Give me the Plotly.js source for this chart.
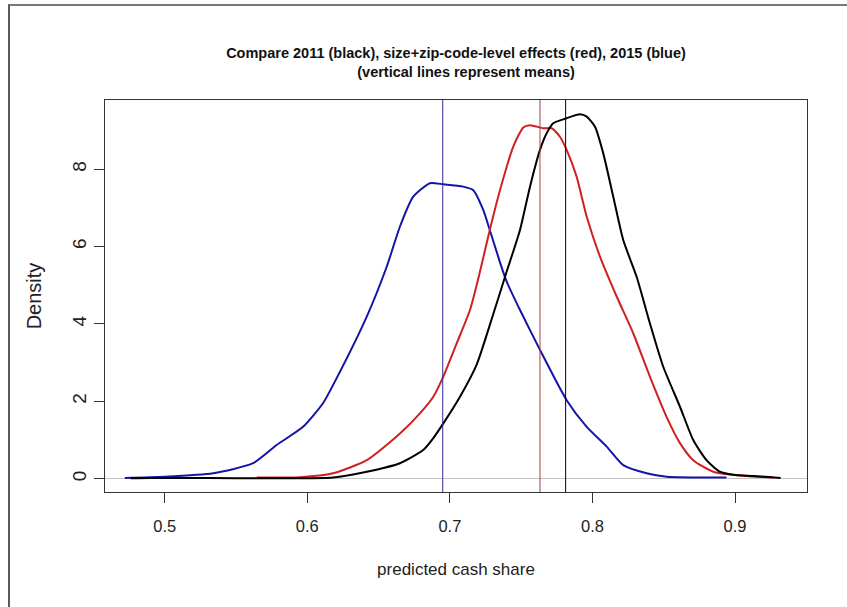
<!DOCTYPE html>
<html>
<head>
<meta charset="utf-8">
<script src="https://cdn.plot.ly/plotly-3.0.1.min.js"></script>
<style>
  html, body { margin: 0; padding: 0; background: #fff; }
  #wrap { position: relative; width: 847px; height: 607px; overflow: hidden; }
  #frame { position: absolute; left: 8px; top: 4px; right: -10px; bottom: -10px;
           border-left: 2px solid #5a5a5a; border-top: 2px solid #777; pointer-events: none; }
  #chart { position: absolute; left: 0; top: 0; width: 847px; height: 607px; }
</style>
</head>
<body>
<div id="wrap">
  <div id="chart"></div>
  <div id="frame"></div>
</div>
<script>
// 2011 (black)
const blackX = [0.476, 0.49, 0.51, 0.55, 0.59, 0.618, 0.6417, 0.665, 0.6813, 0.6884, 0.6954, 0.7071, 0.7188, 0.7304, 0.7398, 0.7492, 0.7562, 0.7632, 0.7679, 0.7725, 0.7819, 0.7912, 0.796, 0.8018, 0.8076, 0.8146, 0.8216, 0.831, 0.8403, 0.8496, 0.8614, 0.8707, 0.88, 0.8894, 0.8987, 0.9128, 0.932];
const blackY = [0.01, 0.02, 0.02, 0.01, 0.01, 0.03, 0.18, 0.40, 0.74, 1.05, 1.43, 2.12, 2.95, 4.25, 5.35, 6.43, 7.55, 8.50, 8.93, 9.19, 9.32, 9.42, 9.36, 9.10, 8.41, 7.29, 6.17, 5.22, 4.02, 2.90, 1.86, 1.00, 0.48, 0.18, 0.10, 0.07, 0.02];
// size + zip-code-level effects (red)
const redX = [0.5645, 0.595, 0.618, 0.6417, 0.665, 0.679, 0.6884, 0.6954, 0.7048, 0.7141, 0.7211, 0.728, 0.7351, 0.7444, 0.7515, 0.7562, 0.7655, 0.7714, 0.7772, 0.7819, 0.7889, 0.796, 0.8053, 0.817, 0.8286, 0.8403, 0.852, 0.8614, 0.8707, 0.8847, 0.908, 0.927];
const redY = [0.03, 0.04, 0.14, 0.48, 1.17, 1.69, 2.12, 2.64, 3.50, 4.36, 5.35, 6.43, 7.45, 8.58, 9.08, 9.14, 9.06, 9.06, 8.84, 8.50, 7.81, 6.77, 5.74, 4.71, 3.76, 2.64, 1.60, 0.92, 0.48, 0.18, 0.07, 0.03];
// 2015 (blue)
const blueX = [0.472, 0.50, 0.534, 0.562, 0.5785, 0.597, 0.611, 0.6206, 0.6417, 0.6557, 0.665, 0.6743, 0.686, 0.6954, 0.7094, 0.7164, 0.7234, 0.728, 0.7351, 0.7398, 0.7492, 0.7632, 0.7819, 0.796, 0.81, 0.8216, 0.838, 0.852, 0.894];
const blueY = [0.02, 0.05, 0.14, 0.40, 0.87, 1.34, 1.95, 2.60, 4.19, 5.48, 6.52, 7.29, 7.64, 7.61, 7.55, 7.46, 6.95, 6.43, 5.60, 5.10, 4.36, 3.33, 2.03, 1.34, 0.83, 0.35, 0.14, 0.05, 0.03];
// means (vertical lines)
const meanNames = ["2011", "size+zip", "2015"];
const meanValues = [0.7812, 0.7632, 0.695];
const meanColors = ["#000000", "#b03c3c", "#2a2a9a"];

const xTicks = [0.5, 0.6, 0.7, 0.8, 0.9];
const xTickLabels = ["0.5", "0.6", "0.7", "0.8", "0.9"];
const yTicks = [0, 2, 4, 6, 8];
const yTickLabels = ["0", "2", "4", "6", "8"];

const FONT = "Liberation Sans, Arial, sans-serif";
const NB = "\u00a0";

const traces = [
  {x: blueX, y: blueY, mode: "lines", line: {color: "#1414a8", width: 2, shape: "spline", smoothing: 0.6}, hoverinfo: "skip"},
  {x: redX, y: redY, mode: "lines", line: {color: "#d02020", width: 2, shape: "spline", smoothing: 0.6}, hoverinfo: "skip"},
  {x: blackX, y: blackY, mode: "lines", line: {color: "#000000", width: 2, shape: "spline", smoothing: 0.6}, hoverinfo: "skip"}
];

const shapes = meanValues.map((m, i) => ({
  type: "line", xref: "x", yref: "paper", x0: m, x1: m, y0: 0, y1: 1,
  line: {color: meanColors[i], width: 1}
}));

const layout = {
  width: 847, height: 607,
  margin: {l: 105, r: 40, t: 100, b: 115, pad: 0},
  paper_bgcolor: "#ffffff", plot_bgcolor: "#ffffff",
  showlegend: false,
  font: {family: FONT, color: "#222"},
  title: {
    text: "<b>Compare 2011 (black), size+zip-code-level effects (red), 2015 (blue)</b><br><b>" + NB.repeat(5) + "(vertical lines represent means)</b>",
    font: {family: FONT, size: 14.5, color: "#111"},
    x: 0.5, xref: "paper", xanchor: "center",
    y: 1 - 58.4 / 607, yref: "container", yanchor: "middle"
  },
  xaxis: {
    range: [0.4581, 0.9505], tickvals: xTicks, ticktext: xTickLabels,
    ticks: "outside", ticklen: 10, tickwidth: 1, tickcolor: "#333",
    showline: true, mirror: true, linecolor: "#333", linewidth: 1.3,
    showgrid: false, zeroline: false,
    tickfont: {family: FONT, size: 16.5, color: "#222"},
    ticklabelstandoff: 9,
    title: {text: "predicted cash share", font: {family: FONT, size: 17, color: "#222"}, standoff: 29}
  },
  yaxis: {
    range: [-0.344, 9.79], tickvals: yTicks, ticktext: yTickLabels,
    ticks: "outside", ticklen: 10, tickwidth: 1, tickcolor: "#333",
    showline: true, mirror: true, linecolor: "#333", linewidth: 1.3,
    showgrid: false, zeroline: true, zerolinecolor: "#c4c4c4", zerolinewidth: 1.2,
    tickangle: -90,
    tickfont: {family: FONT, size: 19, color: "#222"},
    ticklabelstandoff: 0,
    title: {text: "Density", font: {family: FONT, size: 20, color: "#222"}, standoff: 22}
  },
  shapes: shapes
};

Plotly.newPlot("chart", traces, layout, {displayModeBar: false, staticPlot: true});
</script>
</body>
</html>
